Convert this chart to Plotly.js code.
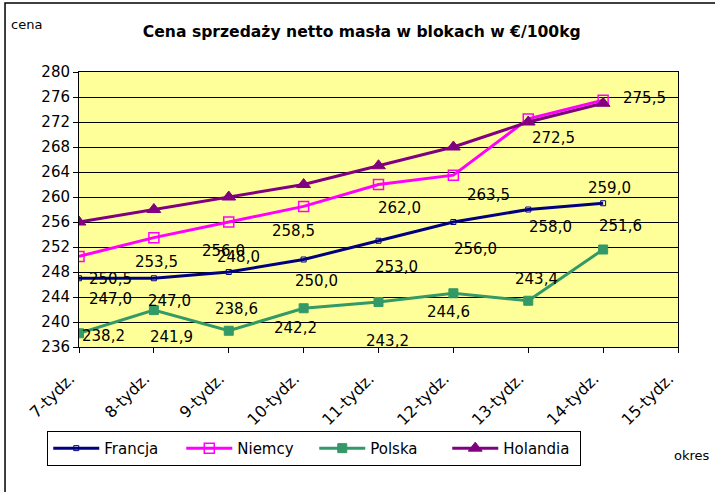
<!DOCTYPE html>
<html>
<head>
<meta charset="utf-8">
<script src="https://cdn.plot.ly/plotly-3.0.1.min.js"></script>
<style>html,body{margin:0;padding:0;background:#fff;}#chart{width:715px;height:492px;}</style>
</head>
<body>
<div id="chart"></div>
<script>
// Data
const categories = ["7-tydz.", "8-tydz.", "9-tydz.", "10-tydz.", "11-tydz.", "12-tydz.", "13-tydz.", "14-tydz.", "15-tydz."];
const francja  = [247.0, 247.0, 248.0, 250.0, 253.0, 256.0, 258.0, 259.0];
const niemcy   = [250.5, 253.5, 256.0, 258.5, 262.0, 263.5, 272.5, 275.5];
const polska   = [238.2, 241.9, 238.6, 242.2, 243.2, 244.6, 243.4, 251.6];
const holandia = [256.0, 258.0, 260.0, 262.0, 265.0, 268.0, 272.0, 275.0];

// label offsets (pixels, as placed in the original)
const offFrancja = [[31,21],[16,23],[10,-15],[13,21],[18,26],[22,27],[22,17],[6,-15]];
const offNiemcy  = [[31,23],[3,24],[-5,29],[-10,25],[21,23],[35,20],[25,19],[41,-2]];
const offPolska  = [[24,3],[18,27],[8,-22],[-8,20],[9,39],[-5,19],[8,-22],[17,-24]];

const FONT = "DejaVu Sans, Arial, sans-serif";
const xs = categories.slice(0, 8);

function tr(name, y, color, symbol, size, lw, fill) {
  return {
    type: "scatter", mode: "lines+markers", name: name,
    x: xs, y: y,
    line: {color: color, width: 3},
    marker: {symbol: symbol, size: size, color: fill, line: {color: color, width: lw}}
  };
}

const traces = [
  tr("Francja", francja, "#000080", "square-open", 5, 1, "#000080"),
  tr("Niemcy", niemcy, "#FF00FF", "square-open", 10, 1.5, "#FF00FF"),
  tr("Polska", polska, "#339966", "square", 9, 1, "#339966"),
  tr("Holandia", holandia, "#800080", "triangle-up", 12, 1, "#800080")
];

const fmt = v => v.toFixed(1).replace(".", ",");
const annotations = [];
function addLabels(vals, offs) {
  vals.forEach((v, i) => {
    annotations.push({
      x: i, y: v, xref: "x", yref: "y", text: fmt(v), showarrow: false,
      xshift: offs[i][0], yshift: -offs[i][1],
      font: {family: FONT, size: 15, color: "#000"}
    });
  });
}
addLabels(francja, offFrancja);
addLabels(niemcy, offNiemcy);
addLabels(polska, offPolska);

annotations.push({
  text: "cena", xref: "paper", yref: "paper", x: -0.117, y: 1.171,
  xanchor: "left", yanchor: "middle", showarrow: false,
  font: {family: FONT, size: 13, color: "#000"}
});
annotations.push({
  text: "okres", xref: "paper", yref: "paper", x: 0.99, y: -0.393,
  xanchor: "left", yanchor: "middle", showarrow: false,
  font: {family: FONT, size: 13, color: "#000"}
});

const layout = {
  width: 715, height: 492,
  margin: {l: 79, r: 37, t: 72, b: 145, pad: 0},
  paper_bgcolor: "#FFFFFF",
  plot_bgcolor: "#FFFF99",
  showlegend: true,
  title: {
    text: "<b>Cena sprzedaży netto masła w blokach w €/100kg</b>",
    x: 0.506, xref: "container", xanchor: "center",
    y: 0.935, yref: "container", yanchor: "middle",
    font: {family: FONT, size: 15.6, color: "#000"}
  },
  xaxis: {
    type: "category", categoryorder: "array", categoryarray: categories,
    range: [0, 8], showgrid: false, zeroline: false,
    showline: true, linecolor: "#000", linewidth: 1, mirror: true,
    ticks: "outside", ticklen: 5, tickcolor: "#000",
    tickangle: -45, ticklabelstandoff: 10, ticklabelshift: -9,
    tickfont: {family: FONT, size: 16, color: "#000"}
  },
  yaxis: {
    range: [236, 280], dtick: 4, tick0: 236,
    showgrid: true, gridcolor: "#000", gridwidth: 1, zeroline: false,
    showline: true, linecolor: "#000", linewidth: 1, mirror: true,
    ticks: "outside", ticklen: 5, tickcolor: "#000",
    tickfont: {family: FONT, size: 15, color: "#000"}
  },
  legend: {
    orientation: "h", x: -0.053, y: -0.305, xanchor: "left", yanchor: "top",
    bordercolor: "#000", borderwidth: 1, bgcolor: "#FFFFFF",
    itemwidth: 46, entrywidth: 72, entrywidthmode: "pixels",
    font: {family: FONT, size: 15, color: "#000"}
  },
  shapes: [{
    type: "rect", xref: "paper", yref: "paper",
    x0: -0.1235, x1: 1.5, y0: -1.0, y1: 1.251,
    line: {color: "#000", width: 1.5}, fillcolor: "rgba(0,0,0,0)", layer: "below"
  }],
  annotations: annotations
};

Plotly.newPlot("chart", traces, layout, {displayModeBar: false, staticPlot: true});
</script>
</body>
</html>
